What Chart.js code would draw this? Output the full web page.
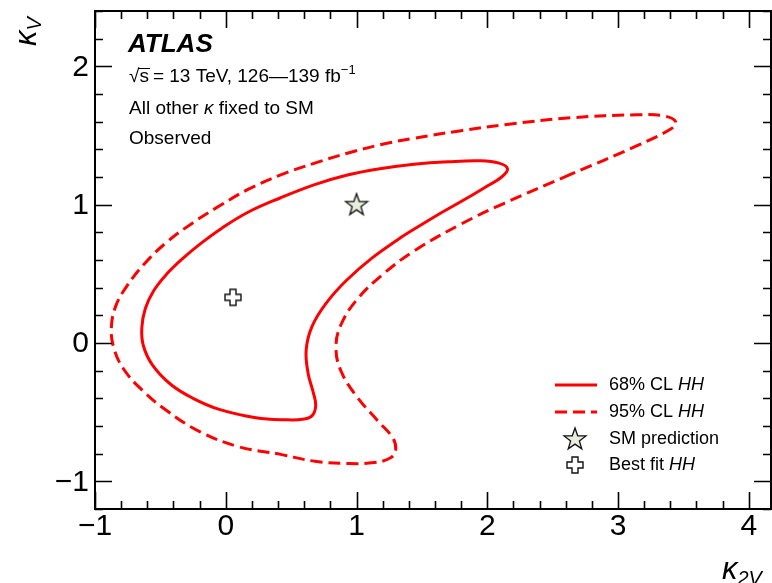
<!DOCTYPE html>
<html>
<head>
<meta charset="utf-8">
<script src="https://cdn.jsdelivr.net/npm/chart.js@4/dist/chart.umd.min.js"></script>
<style>
  body { margin: 0; background: #fff; }
  #wrap { width: 772px; height: 583px; }
</style>
</head>
<body>
<div id="wrap"><canvas id="chart" width="772" height="583"></canvas></div>
<script>
// 68% CL contour (closed)
const cl68X = [1.35, 1.12, 0.92, 0.77, 0.66, 0.615, 0.63, 0.67, 0.688, 0.665, 0.60, 0.45, 0.23, -0.05,
  -0.25, -0.42, -0.56, -0.63, -0.642, -0.615, -0.55, -0.45, -0.33, -0.19, -0.03, 0.17, 0.42, 0.68, 0.93,
  1.19, 1.44, 1.70, 1.95, 2.09, 2.155, 2.11, 2.00, 1.85, 1.60, 1.35];
const cl68Y = [0.77, 0.615, 0.45, 0.29, 0.12, -0.05, -0.22, -0.36, -0.45, -0.52, -0.55, -0.555, -0.54, -0.48,
  -0.40, -0.30, -0.16, -0.02, 0.11, 0.25, 0.38, 0.50, 0.61, 0.72, 0.83, 0.945, 1.05, 1.145, 1.215,
  1.262, 1.292, 1.31, 1.317, 1.30, 1.26, 1.20, 1.135, 1.05, 0.915, 0.77];

// 95% CL contour (closed)
const cl95X = [2.64, 2.13, 1.80, 1.44, 1.20, 1.00, 0.88, 0.843, 0.88, 1.00, 1.16, 1.275, 1.30, 1.26, 1.135,
  0.93, 0.68, 0.42, 0.10, -0.20, -0.45, -0.64, -0.78, -0.855, -0.875, -0.84, -0.75, -0.62, -0.45, -0.25,
  -0.05, 0.17, 0.42, 0.68, 0.93, 1.19, 1.44, 1.80, 2.15, 2.64, 3.15, 3.36, 3.443, 3.40, 3.15, 2.64];
const cl95Y = [1.22, 1.01, 0.86, 0.665, 0.495, 0.31, 0.13, -0.03, -0.20, -0.385, -0.56, -0.683, -0.77, -0.83, -0.864,
  -0.871, -0.855, -0.805, -0.75, -0.64, -0.49, -0.34, -0.19, -0.04, 0.11, 0.27, 0.42, 0.575, 0.73, 0.87,
  0.99, 1.11, 1.215, 1.30, 1.372, 1.435, 1.48, 1.535, 1.58, 1.628, 1.65, 1.64, 1.596, 1.545, 1.428, 1.22];

const smPoint = [1, 1];
const bestFitPoint = [0.055, 0.33];

const xTicks = [-1, 0, 1, 2, 3, 4];
const yTicks = [-1, 0, 1, 2];
const legendLabels = ["68% CL ", "95% CL ", "SM prediction", "Best fit "];

const toXY = (xs, ys) => xs.map((x, i) => ({ x: x, y: ys[i] }));

// marker images
function starImage() {
  const c = document.createElement("canvas");
  c.width = 26; c.height = 26;
  const g = c.getContext("2d");
  g.beginPath();
  for (let i = 0; i < 10; i++) {
    const r = i % 2 === 0 ? 11.5 : 4.6;
    const a = -Math.PI / 2 + i * Math.PI / 5;
    const px = 13 + r * Math.cos(a), py = 13.5 + r * Math.sin(a);
    if (i === 0) g.moveTo(px, py); else g.lineTo(px, py);
  }
  g.closePath();
  g.fillStyle = "#e8eddd";
  g.fill();
  g.strokeStyle = "#111";
  g.lineWidth = 1.3;
  g.stroke();
  return c;
}
function crossImage() {
  const c = document.createElement("canvas");
  c.width = 20; c.height = 20;
  const g = c.getContext("2d");
  const a = 3, b = 8, o = 10;
  g.beginPath();
  g.moveTo(o - a, o - b); g.lineTo(o + a, o - b); g.lineTo(o + a, o - a);
  g.lineTo(o + b, o - a); g.lineTo(o + b, o + a); g.lineTo(o + a, o + a);
  g.lineTo(o + a, o + b); g.lineTo(o - a, o + b); g.lineTo(o - a, o + a);
  g.lineTo(o - b, o + a); g.lineTo(o - b, o - a); g.lineTo(o - a, o - a);
  g.closePath();
  g.fillStyle = "#fff";
  g.fill();
  g.strokeStyle = "#111";
  g.lineWidth = 1.4;
  g.stroke();
  return c;
}
const starImg = starImage();
const crossImg = crossImage();

const FONT = "'Liberation Sans', Arial, Helvetica, sans-serif";

function drawRich(ctx, x, y, parts) {
  let cx = x;
  parts.forEach((p) => {
    ctx.font = p.font;
    ctx.fillText(p.t, cx, y + (p.dy || 0));
    cx += ctx.measureText(p.t).width;
  });
  return cx;
}

const atlasDecor = {
  id: "atlasDecor",
  afterDraw(chart) {
    const ctx = chart.ctx;
    const area = chart.chartArea;
    const xs = chart.scales.x, ys = chart.scales.y;
    ctx.save();
    ctx.strokeStyle = "#000";
    ctx.fillStyle = "#000";

    // ticks (inside, on all four sides)
    ctx.lineWidth = 1.6;
    ctx.beginPath();
    for (let i = -5; i <= 21; i++) {
      const v = i * 0.2;
      if (v < xs.min - 1e-6 || v > xs.max + 1e-6) continue;
      const px = Math.round(xs.getPixelForValue(v)) + 0.5;
      const len = i % 5 === 0 ? 17 : 8;
      ctx.moveTo(px, area.bottom); ctx.lineTo(px, area.bottom - len);
      ctx.moveTo(px, area.top); ctx.lineTo(px, area.top + len);
    }
    for (let i = -6; i <= 12; i++) {
      const v = i * 0.2;
      const py = Math.round(ys.getPixelForValue(v)) + 0.5;
      const len = i % 5 === 0 ? 17 : 8;
      ctx.moveTo(area.left, py); ctx.lineTo(area.left + len, py);
      ctx.moveTo(area.right, py); ctx.lineTo(area.right - len, py);
    }
    ctx.stroke();

    // frame
    ctx.lineWidth = 2;
    ctx.strokeRect(area.left, area.top, area.right - area.left, area.bottom - area.top);

    // tick labels
    ctx.font = "30px " + FONT;
    ctx.textAlign = "center";
    ctx.textBaseline = "middle";
    xTicks.forEach((t) => {
      ctx.fillText(t < 0 ? "\u2212" + Math.abs(t) : String(t), xs.getPixelForValue(t), 527);
    });
    ctx.textAlign = "right";
    yTicks.forEach((t) => {
      ctx.fillText(t < 0 ? "\u2212" + Math.abs(t) : String(t), 89, ys.getPixelForValue(t) + 1);
    });

    // axis titles
    ctx.textAlign = "left";
    ctx.textBaseline = "alphabetic";
    ctx.save();
    ctx.translate(36, 46);
    ctx.rotate(-Math.PI / 2);
    drawRich(ctx, 0, 0, [
      { t: "\u03BA", font: "italic 31px " + FONT },
      { t: "V", font: "italic 20px " + FONT, dy: 5 }
    ]);
    ctx.restore();
    drawRich(ctx, 722, 579, [
      { t: "\u03BA", font: "italic 31px " + FONT },
      { t: "2V", font: "italic 20px " + FONT, dy: 6 }
    ]);

    // ATLAS label block
    ctx.font = "bold italic 26px " + FONT;
    ctx.fillText("ATLAS", 128, 52);
    const f19 = "19px " + FONT;
    ctx.font = f19;
    ctx.fillText("\u221A", 129, 82);
    const sx = 129 + ctx.measureText("\u221A").width;
    ctx.fillText("s", sx, 82);
    const sw = ctx.measureText("s").width;
    ctx.lineWidth = 1;
    ctx.beginPath();
    ctx.moveTo(sx - 1, 68.5); ctx.lineTo(sx + sw + 1, 68.5);
    ctx.stroke();
    drawRich(ctx, sx + sw + 4, 82, [
      { t: "= 13 TeV, 126\u2014139 fb", font: f19 },
      { t: "\u22121", font: "13px " + FONT, dy: -8 }
    ]);
    drawRich(ctx, 129, 114, [
      { t: "All other ", font: f19 },
      { t: "\u03BA", font: "italic 19px " + FONT },
      { t: " fixed to SM", font: f19 }
    ]);
    ctx.font = f19;
    ctx.fillText("Observed", 129, 144);

    // legend
    const lx = 609;
    const ly = [385, 412, 439, 465];
    ctx.strokeStyle = "#ff0000";
    ctx.lineWidth = 3;
    ctx.beginPath();
    ctx.moveTo(555, ly[0]); ctx.lineTo(597, ly[0]);
    ctx.stroke();
    ctx.setLineDash([12, 6]);
    ctx.beginPath();
    ctx.moveTo(555, ly[1]); ctx.lineTo(597, ly[1]);
    ctx.stroke();
    ctx.setLineDash([]);
    ctx.drawImage(starImg, 575 - 13, ly[2] - 13);
    ctx.drawImage(crossImg, 575 - 10, ly[3] - 10);
    ctx.fillStyle = "#000";
    ctx.textBaseline = "middle";
    const f18 = "18px " + FONT, f18i = "italic 18px " + FONT;
    drawRich(ctx, lx, ly[0], [{ t: legendLabels[0], font: f18 }, { t: "HH", font: f18i }]);
    drawRich(ctx, lx, ly[1], [{ t: legendLabels[1], font: f18 }, { t: "HH", font: f18i }]);
    drawRich(ctx, lx, ly[2], [{ t: legendLabels[2], font: f18 }]);
    drawRich(ctx, lx, ly[3], [{ t: legendLabels[3], font: f18 }, { t: "HH", font: f18i }]);
    ctx.restore();
  }
};

const ctx = document.getElementById("chart");
new Chart(ctx, {
  type: "scatter",
  data: {
    datasets: [
      {
        label: "SM prediction",
        data: [{ x: smPoint[0], y: smPoint[1] }],
        pointStyle: starImg,
        pointRadius: 1,
        borderWidth: 1
      },
      {
        label: "Best fit HH",
        data: [{ x: bestFitPoint[0], y: bestFitPoint[1] }],
        pointStyle: crossImg,
        pointRadius: 1,
        borderWidth: 1
      },
      {
        label: "68% CL HH",
        data: toXY(cl68X, cl68Y),
        showLine: true,
        borderColor: "#ff0000",
        borderWidth: 3,
        pointRadius: 0,
        tension: 0.4
      },
      {
        label: "95% CL HH",
        data: toXY(cl95X, cl95Y),
        showLine: true,
        borderColor: "#ff0000",
        borderWidth: 3,
        borderDash: [12, 6],
        pointRadius: 0,
        tension: 0.4
      }
    ]
  },
  options: {
    responsive: false,
    animation: false,
    devicePixelRatio: 1,
    layout: { autoPadding: false, padding: { left: 95, right: 1, top: 11, bottom: 74 } },
    scales: {
      x: { type: "linear", min: -1, max: 4.17, display: false },
      y: { type: "linear", min: -1.2, max: 2.4, display: false }
    },
    plugins: {
      legend: { display: false },
      tooltip: { enabled: false }
    }
  },
  plugins: [atlasDecor]
});
</script>
</body>
</html>
